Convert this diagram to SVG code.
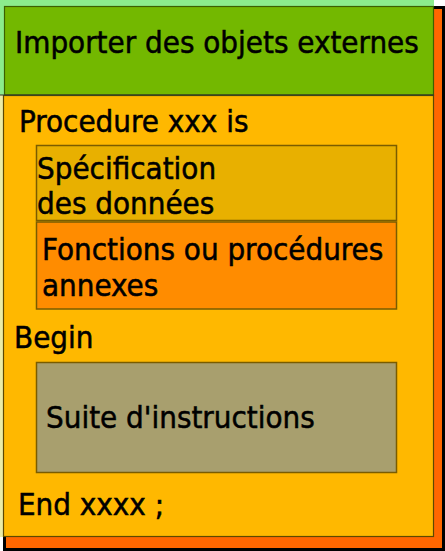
<svg xmlns="http://www.w3.org/2000/svg" width="445" height="551" viewBox="0 0 445 551">
<style>
text{font-family:"DejaVu Sans Condensed","DejaVu Sans",sans-serif;font-stretch:condensed;font-size:31px;fill:#000;stroke:#000;stroke-width:0.5}
.box{stroke:#7a5c00;stroke-width:1.5}
</style>
<rect width="445" height="551" fill="#ffffff"/>
<g id="shadow">
<rect x="4.5" y="7.5" width="439" height="542" fill="#ff6600" stroke="#000" stroke-width="3"/>
</g>
<g id="procedure">
<rect x="0" y="95" width="434" height="442" fill="#ececa8"/>
<rect x="3.5" y="95.5" width="430" height="441" fill="#ffb800" stroke="#5c4800" stroke-width="1.2"/>
<text x="19" y="132">Procedure xxx is</text>
<text x="14" y="348">Begin</text>
<text x="18" y="515">End xxxx ;</text>
</g>
<g id="import">
<rect x="0" y="0" width="434" height="95" fill="#8cec8c"/>
<rect x="4.5" y="6.5" width="429" height="88.5" fill="#73b800" stroke="#3c6000" stroke-width="1.2"/>
<line x1="0" y1="95" x2="434" y2="95" stroke="#333" stroke-width="1.2"/>
<text x="15" y="53">Importer des objets externes</text>
</g>
<g id="specification">
<rect class="box" x="36.5" y="145.5" width="360" height="75" fill="#e8b000"/>
<text x="37" y="179">Spécification</text>
<text x="37" y="214">des données</text>
</g>
<g id="fonctions">
<rect class="box" x="36.5" y="222" width="360" height="87" fill="#ff8c00"/>
<text x="42" y="260">Fonctions ou procédures</text>
<text x="42" y="296">annexes</text>
</g>
<g id="suite">
<rect class="box" x="36.5" y="362.5" width="360" height="110" fill="#a89f6e"/>
<text x="46" y="428">Suite d'instructions</text>
</g>
<g id="connectors"></g>
</svg>
